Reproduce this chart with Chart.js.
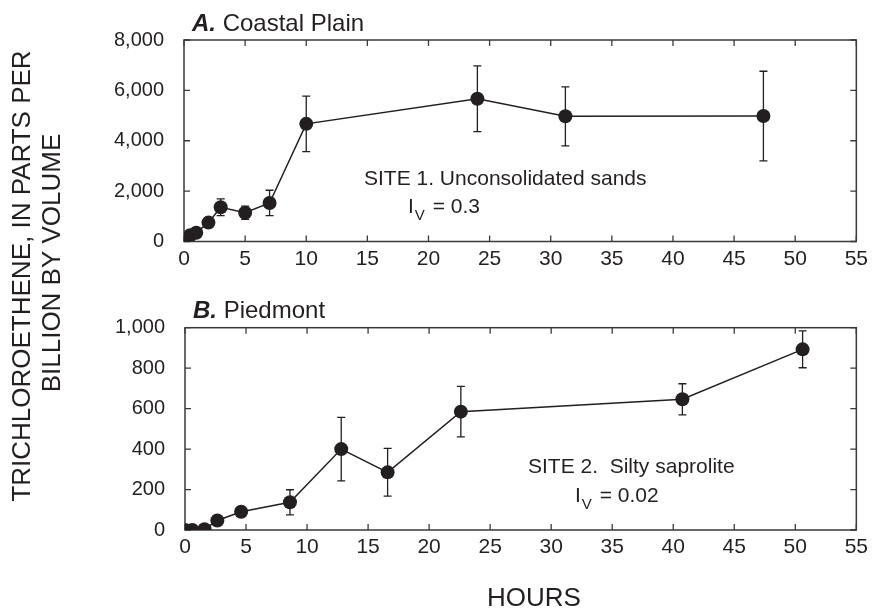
<!DOCTYPE html>
<html>
<head>
<meta charset="utf-8">
<script src="https://cdn.jsdelivr.net/npm/chart.js@4.4.1/dist/chart.umd.min.js"></script>
<style>
  html, body { margin: 0; padding: 0; background: #fff; }
  #wrap { position: relative; width: 873px; height: 608px; }
  canvas { position: absolute; left: 0; top: 0; }
</style>
</head>
<body>
<div id="wrap">
  <canvas id="chartA" width="873" height="608"></canvas>
  <canvas id="chartB" width="873" height="608"></canvas>
</div>
<script>
// Panel A - Coastal Plain
const hoursA = [0, 0.5, 1, 2, 3, 5, 7, 10, 24, 31.2, 47.4];
const tceA   = [0, 250, 350, 750, 1360, 1140, 1530, 4670, 5670, 4970, 4980];
const errA   = [0, 0, 0, 0, 330, 265, 505, 1105, 1305, 1170, 1780];

// Panel B - Piedmont
const hoursB = [0, 0.6, 1.6, 2.65, 4.6, 8.6, 12.8, 16.6, 22.6, 40.75, 50.6];
const tceB   = [0, 0, 4, 47, 90, 137, 400, 285, 585, 646, 893];
const errB   = [0, 0, 0, 0, 0, 62, 157, 118, 125, 77, 91];

const xTicks = [0, 5, 10, 15, 20, 25, 30, 35, 40, 45, 50, 55];
const yTicksA = [0, 2000, 4000, 6000, 8000];
const yTicksB = [0, 200, 400, 600, 800, 1000];

const INK = '#231f20';
const FONT = '"Liberation Sans", Arial, sans-serif';

// frame, inward ticks and error bars
const framePlugin = {
  id: 'frame',
  beforeDatasetsDraw(chart) {
    const ctx = chart.ctx;
    const a = chart.chartArea;
    const xs = chart.scales.x, ys = chart.scales.y;
    ctx.save();
    ctx.strokeStyle = '#3a3a3a';
    ctx.lineWidth = 1.5;
    ctx.strokeRect(a.left, a.top, a.right - a.left, a.bottom - a.top);
    ctx.lineWidth = 1.3;
    ctx.beginPath();
    xs.ticks.forEach(t => {
      const px = xs.getPixelForValue(t.value);
      ctx.moveTo(px, a.bottom); ctx.lineTo(px, a.bottom - 6);
      ctx.moveTo(px, a.top); ctx.lineTo(px, a.top + 6);
    });
    ys.ticks.forEach(t => {
      const py = ys.getPixelForValue(t.value);
      ctx.moveTo(a.left, py); ctx.lineTo(a.left + 6, py);
      ctx.moveTo(a.right, py); ctx.lineTo(a.right - 6, py);
    });
    ctx.stroke();

    const o = chart.options.plugins.frame;
    ctx.strokeStyle = INK;
    ctx.lineWidth = 1.3;
    ctx.beginPath();
    o.hours.forEach((h, i) => {
      const e = o.err[i];
      if (!e) return;
      const px = xs.getPixelForValue(h);
      const top = ys.getPixelForValue(o.vals[i] + e);
      const bot = ys.getPixelForValue(o.vals[i] - e);
      ctx.moveTo(px, top); ctx.lineTo(px, bot);
      ctx.moveTo(px - 4, top); ctx.lineTo(px + 4, top);
      ctx.moveTo(px - 4, bot); ctx.lineTo(px + 4, bot);
    });
    ctx.stroke();
    ctx.restore();
  }
};

function drawTitle(ctx, x, y, letter, rest) {
  ctx.font = 'italic bold 24px ' + FONT;
  ctx.fillText(letter, x, y);
  const w = ctx.measureText(letter).width;
  ctx.font = '24px ' + FONT;
  ctx.fillText(' ' + rest, x + w, y);
}

function drawIv(ctx, x, y, val) {
  ctx.font = '21px ' + FONT;
  ctx.fillText('I', x, y);
  let w = ctx.measureText('I').width;
  ctx.font = '15px ' + FONT;
  ctx.fillText('V', x + w + 1, y + 7);
  w += ctx.measureText('V').width + 3;
  ctx.font = '21px ' + FONT;
  ctx.fillText(' = ' + val, x + w, y);
}

function makeChart(id, hours, vals, err, yTicks, area, drawText) {
  const xAxisH = 40;
  return new Chart(document.getElementById(id), {
    type: 'scatter',
    data: {
      datasets: [{
        data: hours.map((h, i) => ({ x: h, y: vals[i] })),
        showLine: true,
        borderColor: INK,
        borderWidth: 1.5,
        pointRadius: 7,
        pointBackgroundColor: INK,
        pointBorderWidth: 0
      }]
    },
    options: {
      responsive: false,
      animation: false,
      devicePixelRatio: 1,
      layout: {
        padding: { left: 0, top: area.top, right: 873 - area.right, bottom: 608 - area.bottom - xAxisH }
      },
      scales: {
        x: {
          type: 'linear', min: xTicks[0], max: xTicks[xTicks.length - 1],
          afterFit: s => { s.height = xAxisH; },
          afterBuildTicks: s => { s.ticks = xTicks.map(v => ({ value: v })); },
          grid: { display: false, drawTicks: false },
          border: { display: false },
          ticks: { color: INK, font: { family: FONT, size: 21 }, padding: 5, maxRotation: 0, autoSkip: false }
        },
        y: {
          type: 'linear', min: yTicks[0], max: yTicks[yTicks.length - 1],
          afterFit: s => { s.width = area.left; },
          afterBuildTicks: s => { s.ticks = yTicks.map(v => ({ value: v })); },
          grid: { display: false, drawTicks: false },
          border: { display: false },
          ticks: { color: INK, font: { family: FONT, size: 20 }, padding: 20,
                   callback: v => v.toLocaleString('en-US') }
        }
      },
      plugins: {
        legend: { display: false },
        tooltip: { enabled: false },
        frame: { hours: hours, vals: vals, err: err }
      }
    },
    plugins: [framePlugin, {
      id: 'texts',
      afterDraw(chart) {
        const ctx = chart.ctx;
        ctx.save();
        ctx.fillStyle = INK;
        ctx.textBaseline = 'alphabetic';
        ctx.textAlign = 'left';
        drawText(ctx);
        ctx.restore();
      }
    }]
  });
}

makeChart('chartA', hoursA, tceA, errA, yTicksA,
  { left: 184, top: 40, right: 857.5, bottom: 241.5 },
  ctx => {
    drawTitle(ctx, 192, 31, 'A.', 'Coastal Plain');
    ctx.font = '21px ' + FONT;
    ctx.fillText('SITE 1. Unconsolidated sands', 364, 185);
    drawIv(ctx, 408, 213, '0.3');
  });

makeChart('chartB', hoursB, tceB, errB, yTicksB,
  { left: 185, top: 327.7, right: 859, bottom: 530 },
  ctx => {
    drawTitle(ctx, 193, 318, 'B.', 'Piedmont');
    ctx.font = '21px ' + FONT;
    ctx.fillText('SITE 2.  Silty saprolite', 528, 473);
    drawIv(ctx, 575, 502, '0.02');

    ctx.font = '26px ' + FONT;
    ctx.textAlign = 'center';
    ctx.fillText('HOURS', 534, 606);

    ctx.save();
    ctx.translate(23, 276);
    ctx.rotate(-Math.PI / 2);
    ctx.textBaseline = 'middle';
    ctx.fillText('TRICHLOROETHENE, IN PARTS PER', 0, 0);
    ctx.restore();
    ctx.save();
    ctx.translate(53, 263);
    ctx.rotate(-Math.PI / 2);
    ctx.textBaseline = 'middle';
    ctx.textAlign = 'center';
    ctx.fillText('BILLION BY VOLUME', 0, 0);
    ctx.restore();
  });
</script>
</body>
</html>
